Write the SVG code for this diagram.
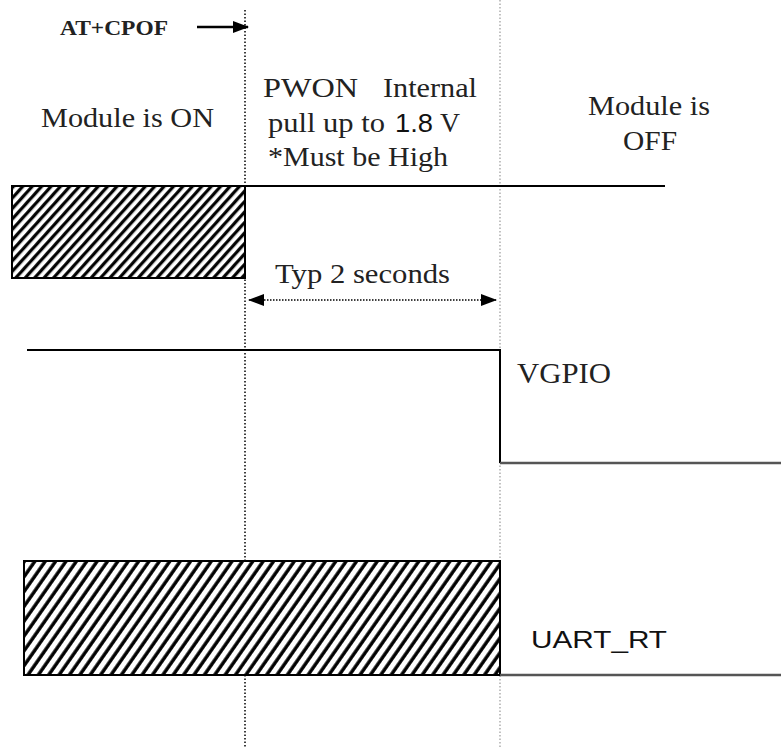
<svg xmlns="http://www.w3.org/2000/svg" width="781" height="748" viewBox="0 0 781 748">
<style>
text{font-family:"Liberation Serif","Times New Roman","DejaVu Serif",serif;fill:#222;}
text.s{font-family:"Liberation Sans",Arial,"DejaVu Sans",sans-serif;fill:#111;}
.sig{stroke:#000;stroke-width:2;fill:none;}
.low{stroke:#555;stroke-width:2.5;fill:none;}
.dot1{stroke:#000;stroke-width:1.5;stroke-dasharray:1.5 2;}
.dot2{stroke:#999;stroke-width:1.2;stroke-dasharray:1.5 2;}
</style>
<defs>
<pattern id="h1" patternUnits="userSpaceOnUse" width="7" height="10" patternTransform="rotate(42)">
<rect width="7" height="10" fill="#fff"/>
<line x1="1.7" y1="0" x2="1.7" y2="10" stroke="#000" stroke-width="3.2"/>
</pattern>
<pattern id="h2" patternUnits="userSpaceOnUse" width="8.5" height="10" patternTransform="rotate(35)">
<rect width="8.5" height="10" fill="#fff"/>
<line x1="2" y1="0" x2="2" y2="10" stroke="#000" stroke-width="3.4"/>
</pattern>
<marker id="ah" markerWidth="16" markerHeight="12" refX="15" refY="6" orient="auto-start-reverse" markerUnits="userSpaceOnUse">
<path d="M0,0 L16,6 L0,12 Z" fill="#000"/>
</marker>
</defs>
<rect width="781" height="748" fill="#fff"/>

<g id="guides">
<line class="dot1" x1="245" y1="10" x2="245" y2="748"/>
<line class="dot2" x1="500" y1="0" x2="500" y2="748"/>
</g>

<g id="connectors">
<line x1="197" y1="27" x2="248" y2="27" stroke="#000" stroke-width="2.5" marker-end="url(#ah)"/>
<line x1="249" y1="300" x2="496" y2="300" stroke="#000" stroke-width="1.5" stroke-dasharray="1.5 1.5" marker-start="url(#ah)" marker-end="url(#ah)"/>
</g>

<g id="cmd">
<text x="60" y="35" font-size="22" font-weight="bold" textLength="108" lengthAdjust="spacingAndGlyphs">AT+CPOF</text>
</g>

<g id="module-on">
<text x="41" y="127" font-size="27" textLength="173" lengthAdjust="spacingAndGlyphs">Module is ON</text>
</g>

<g id="pwon-label">
<text x="263" y="97" font-size="27" fill="#111" textLength="95" lengthAdjust="spacingAndGlyphs">PWON</text>
<text x="383" y="97" font-size="27" textLength="94" lengthAdjust="spacingAndGlyphs">Internal</text>
<text x="268" y="132" font-size="27" textLength="117" lengthAdjust="spacingAndGlyphs">pull up to</text>
<text class="s" x="395" y="132" font-size="25" textLength="38" lengthAdjust="spacingAndGlyphs">1.8</text>
<text x="440" y="132" font-size="27" textLength="20" lengthAdjust="spacingAndGlyphs">V</text>
<text x="268" y="166" font-size="27" textLength="180" lengthAdjust="spacingAndGlyphs">*Must be High</text>
</g>

<g id="module-off">
<text x="649" y="115" font-size="27" text-anchor="middle" textLength="122" lengthAdjust="spacingAndGlyphs">Module is</text>
<text x="650" y="150" font-size="27" text-anchor="middle" textLength="54" lengthAdjust="spacingAndGlyphs">OFF</text>
</g>

<g id="pwon-signal">
<rect x="12" y="186" width="233" height="92" fill="url(#h1)" stroke="#000" stroke-width="2"/>
<line class="sig" x1="245" y1="186" x2="665" y2="186"/>
</g>

<g id="typ-label">
<text x="275" y="283" font-size="27" textLength="175" lengthAdjust="spacingAndGlyphs">Typ 2 seconds</text>
</g>

<g id="vgpio">
<polyline class="sig" points="27,350 500,350 500,463"/>
<line class="low" x1="500" y1="463" x2="781" y2="463"/>
<text x="517" y="383" font-size="30" textLength="94" lengthAdjust="spacingAndGlyphs">VGPIO</text>
</g>

<g id="uart">
<rect x="24" y="561" width="476" height="114" fill="url(#h2)" stroke="#000" stroke-width="2"/>
<line class="low" x1="500" y1="675" x2="781" y2="675"/>
<text class="s" x="531" y="648" font-size="23" textLength="136" lengthAdjust="spacingAndGlyphs">UART_RT</text>
</g>
</svg>
